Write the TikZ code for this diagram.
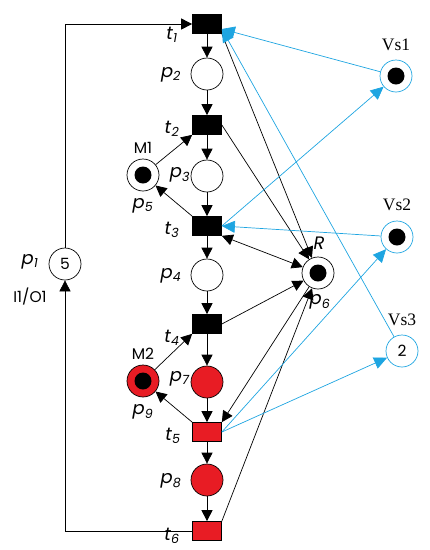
\documentclass[tikz,border=0pt]{standalone}
\usepackage{fontspec}
\setsansfont{Poppins}
\newfontfamily\vsfont{Liberation Serif}
\usetikzlibrary{arrows.meta}

\definecolor{netred}{RGB}{232,28,36}
\definecolor{netcyan}{RGB}{30,165,225}

\newcommand\lab[2]{\textit{#1}\textsubscript{\textit{#2}}}
\newcommand\lblfont{\sffamily\fontsize{15.5pt}{16pt}\selectfont}
\newcommand\namefont{\sffamily\fontsize{18pt}{18pt}\selectfont}
\newcommand\vsfontsize{\vsfont\fontsize{17.5pt}{18pt}\selectfont}

\begin{document}
\begin{tikzpicture}[x=1pt,y=-1pt,line width=0.7pt,
    >={Triangle[width=11pt,length=11pt]},
    place/.style={circle,draw,minimum size=32pt,inner sep=0pt,
        font=\lblfont},
    rplace/.style={place,fill=netred},
    vplace/.style={place,draw=netcyan},
    trans/.style={rectangle,draw,fill=black,minimum width=29pt,
        minimum height=19pt,inner sep=0pt},
    rtrans/.style={trans,fill=netred},
    lbl/.style={font=\lblfont},
    nlbl/.style={font=\namefont},
    vlbl/.style={font=\vsfontsize},
    cyanarc/.style={draw=netcyan,->,>={Triangle[width=12pt,length=13pt]}}]

    \useasboundingbox (0,0) rectangle (430,550);

    % Transitions
    \node[trans]  (t1) at (207,24)  {};
    \node[trans]  (t2) at (207,125) {};
    \node[trans]  (t3) at (207,226) {};
    \node[trans]  (t4) at (207,324) {};
    \node[rtrans] (t5) at (207,432) {};
    \node[rtrans] (t6) at (207,531) {};

    % Places
    \node[place]  (p1) at (65,264)  {5};
    \node[place]  (p2) at (207,74)  {};
    \node[place]  (p3) at (207,176) {};
    \node[place]  (p4) at (207,275) {};
    \node[place]  (p5) at (143,175) {};
    \node[place]  (p6) at (318,273) {};
    \node[rplace] (p7) at (207,382) {};
    \node[rplace] (p8) at (207,480) {};
    \node[rplace] (p9) at (143,381) {};

    % Sensor places
    \node[vplace] (vs1) at (396,76)  {};
    \node[vplace] (vs2) at (397,237) {};
    \node[vplace] (vs3) at (402,351) {2};

    % Tokens
    \foreach \p in {p5,p6,p9,vs1,vs2}
        \fill (\p) circle (8.5pt);

    % Main line
    \foreach \a/\b in {t1/p2,p2/t2,t2/p3,p3/t3,t3/p4,p4/t4,t4/p7,p7/t5,t5/p8,p8/t6}
        \draw[->] (\a) -- (\b);

    % Loop through p1
    \draw[->] (t6) -| (p1);
    \draw[->] (p1) |- (t1);

    % Side places
    \draw[->] (p5) -- (t2.south west);
    \draw[->] (t3.north west) -- (p5);
    \draw[->] (p9) -- (t4.south west);
    \draw[->] (t5.north west) -- (p9);

    % Resource R
    \draw[->] (t1.south east) -- (p6);
    \draw[->] (t2.east) -- (p6);
    \draw[<->] (t3.south east) -- (p6);
    \draw[->] (t4.east) -- (p6);
    \draw[->] (p6) -- (t5.north east);
    \draw[->] (t6.north east) -- (p6);

    % Sensor arcs
    \draw[cyanarc] (vs1) -- ([yshift=-5pt]t1.east);
    \draw[cyanarc] (vs3) -- ([yshift=-5pt]t1.east);
    \draw[cyanarc] (t3.east) -- (vs1);
    \draw[cyanarc] (vs2) -- (t3.east);
    \draw[cyanarc] (t5.east) -- (vs2);
    \draw[cyanarc] (t5.east) -- (vs3);

    % Labels
    \node[nlbl] (lt1) at (172,35)  {\lab{t}{1}};
    \node[nlbl] (lt2) at (172,129) {\lab{t}{2}};
    \node[nlbl] (lt3) at (172,230) {\lab{t}{3}};
    \node[nlbl] (lt4) at (172,338) {\lab{t}{4}};
    \node[nlbl] (lt5) at (173,436) {\lab{t}{5}};
    \node[nlbl] (lt6) at (172,536) {\lab{t}{6}};
    \node[nlbl] (lp1) at (30,262)  {\lab{p}{1}};
    \node[nlbl] (lp2) at (171,75)  {\lab{p}{2}};
    \node[nlbl] (lp3) at (180,175) {\lab{p}{3}};
    \node[nlbl] (lp4) at (171,276) {\lab{p}{4}};
    \node[nlbl] (lp5) at (143,206) {\lab{p}{5}};
    \node[nlbl] (lp6) at (320,302) {\lab{p}{6}};
    \node[nlbl] (lp7) at (180,379) {\lab{p}{7}};
    \node[nlbl] (lp8) at (171,481) {\lab{p}{8}};
    \node[nlbl] (lp9) at (143,412) {\lab{p}{9}};
    \node[lbl] (lm1) at (143,148) {M1};
    \node[lbl] (lm2) at (143,354) {M2};
    \node[lbl] (lio) at (30,297)  {I1/O1};
    \node[nlbl] (lr)  at (319,243) {\textit{R}};
    \node[vlbl] (lvs1) at (396,45)  {Vs1};
    \node[vlbl] (lvs2) at (397,205) {Vs2};
    \node[vlbl] (lvs3) at (402,320) {Vs3};

\end{tikzpicture}
\end{document}
